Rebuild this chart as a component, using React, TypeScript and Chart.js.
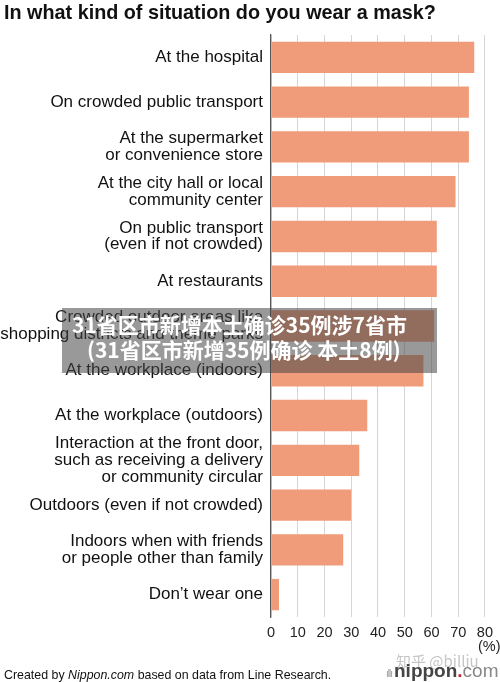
import React, { useEffect, useRef } from "react";
import { Chart, registerables } from "chart.js";

Chart.register(...registerables);

const categories: string[][] = [
  ["At the hospital"],
  ["On crowded public transport"],
  ["At the supermarket", "or convenience store"],
  ["At the city hall or local", "community center"],
  ["On public transport", "(even if not crowded)"],
  ["At restaurants"],
  ["Crowded outdoor areas like", "shopping districts and theme parks"],
  ["At the workplace (indoors)"],
  ["At the workplace (outdoors)"],
  ["Interaction at the front door,", "such as receiving a delivery", "or community circular"],
  ["Outdoors (even if not crowded)"],
  ["Indoors when with friends", "or people other than family"],
  ["Don\u2019t wear one"],
];

const values: number[] = [76, 74, 74, 69, 62, 62, 61, 57, 36, 33, 30, 27, 3];

const xTicks: number[] = [0, 10, 20, 30, 40, 50, 60, 70, 80];

const titleText = "In what kind of situation do you wear a mask?";
const overlayLines = ["31省区市新增本土确诊35例涉7省市", "(31省区市新增35例确诊 本土8例)"];

const FONT = '"Liberation Sans", Arial, Helvetica, sans-serif';

export default function App() {
  const ref = useRef<HTMLCanvasElement | null>(null);

  useEffect(() => {
    document.body.style.margin = "0";
    const chart = new Chart(ref.current as HTMLCanvasElement, {
      type: "bar",
      data: {
        labels: categories,
        datasets: [
          {
            data: values,
            backgroundColor: "#F09B7A",
            borderWidth: 0,
            barPercentage: 0.7,
            categoryPercentage: 1,
          },
        ],
      },
      options: {
        indexAxis: "y",
        animation: false,
        responsive: false,
        layout: { padding: { top: 35, right: 10, left: 0, bottom: 0 } },
        plugins: {
          legend: { display: false },
          tooltip: { enabled: false },
          title: { display: false },
        },
        scales: {
          x: {
            min: xTicks[0],
            max: xTicks[xTicks.length - 1],
            afterBuildTicks: (scale: any) => {
              scale.ticks = xTicks.map((v) => ({ value: v }));
            },
            ticks: {
              color: "#222",
              font: { family: FONT, size: 14.5 },
              padding: 7,
              maxRotation: 0,
            },
            grid: { color: "#d6d6d6", lineWidth: 1, drawTicks: false },
            border: { display: false },
            afterFit: (scale: any) => {
              scale.height = 65;
            },
          },
          y: {
            ticks: {
              color: "#111",
              font: { family: FONT, size: 17, lineHeight: 0.98 },
              padding: 8,
              autoSkip: false,
            },
            grid: { display: false, drawTicks: false },
            border: { display: true, color: "#555", width: 1.2 },
            afterFit: (scale: any) => {
              scale.width = 271;
            },
          },
        },
      },
    });
    return () => chart.destroy();
  }, []);

  const overlayText: React.CSSProperties = {
    position: "absolute",
    fontFamily: '"Noto Sans CJK SC", sans-serif',
    fontWeight: "bold",
    fontSize: 21,
    lineHeight: "25px",
    color: "#fff",
    whiteSpace: "nowrap",
  };

  return (
    <div style={{ position: "relative", width: 500, height: 682, background: "#fff", overflow: "hidden" }}>
      <canvas ref={ref} width={500} height={682} style={{ position: "absolute", left: 0, top: 0 }} />
      <div
        style={{
          position: "absolute",
          left: 4,
          top: 0,
          fontFamily: FONT,
          fontWeight: "bold",
          fontSize: 19.8,
          lineHeight: "24px",
          color: "#111",
          whiteSpace: "nowrap",
        }}
      >
        {titleText}
      </div>
      <div
        style={{
          position: "absolute",
          left: 478,
          top: 638,
          fontFamily: FONT,
          fontSize: 14.5,
          color: "#222",
        }}
      >
        (%)
      </div>
      <div
        style={{
          position: "absolute",
          left: 62,
          top: 308,
          width: 375,
          height: 65,
          background: "rgba(70,70,70,0.55)",
        }}
      />
      <div style={{ ...overlayText, left: 72, top: 312 }}>{overlayLines[0]}</div>
      <div style={{ ...overlayText, left: 87, top: 337 }}>{overlayLines[1]}</div>
      <div
        style={{
          position: "absolute",
          left: 4,
          top: 668,
          fontFamily: FONT,
          fontSize: 12.4,
          color: "#111",
          whiteSpace: "nowrap",
        }}
      >
        Created by <i>Nippon.com</i> based on data from Line Research.
      </div>
      <div
        style={{
          position: "absolute",
          left: 396,
          top: 650,
          fontFamily: '"Noto Sans CJK SC", sans-serif',
          fontSize: 15,
          color: "rgba(150,150,150,0.55)",
          whiteSpace: "nowrap",
        }}
      >
        知乎 @billiu
      </div>
      <div
        style={{
          position: "absolute",
          left: 386,
          top: 660,
          fontFamily: FONT,
          fontSize: 19,
          lineHeight: "22px",
          whiteSpace: "nowrap",
          color: "#333",
        }}
      >
        <span style={{ fontSize: 10, color: "#999", letterSpacing: -1, marginRight: 2 }}>ıllı</span>
        <span style={{ fontWeight: "bold", color: "#444" }}>nippon</span>
        <span style={{ fontWeight: "bold", color: "#d0202a" }}>.</span>
        <span style={{ color: "#888" }}>com</span>
      </div>
    </div>
  );
}
